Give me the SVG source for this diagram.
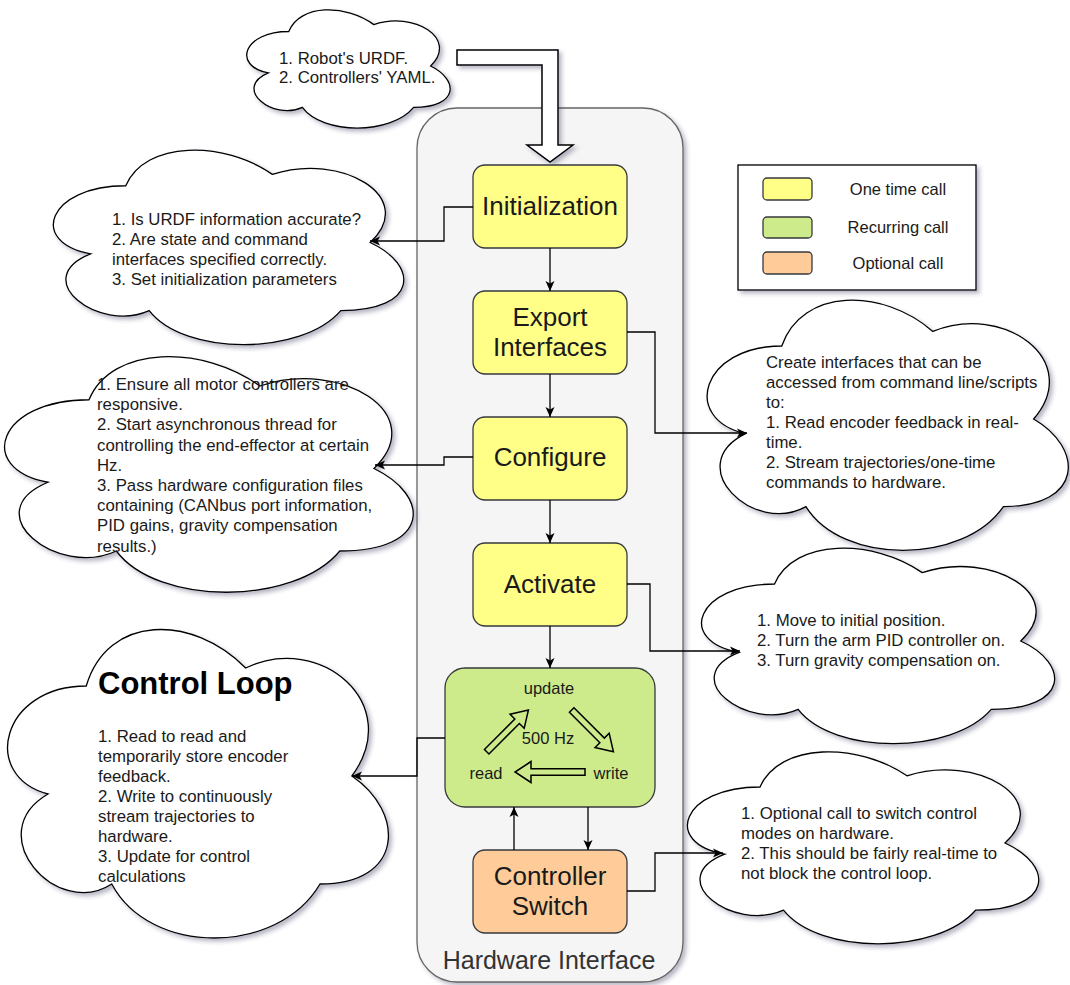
<svg xmlns="http://www.w3.org/2000/svg" xmlns:xlink="http://www.w3.org/1999/xlink" width="1070" height="985" viewBox="0 0 1070 985">
  <defs>
    <style>
      text { font-family: "Liberation Sans", Arial, Helvetica, sans-serif; }
      .ct { font-size: 16.8px; fill: #1a1a1a; }
      .nt { font-size: 26px; fill: #1a1a1a; text-anchor: middle; }
      .lt { font-size: 16.5px; fill: #1a1a1a; text-anchor: middle; }
      .gt { font-size: 16.5px; fill: #1a1a1a; text-anchor: middle; }
      .yellow { fill: #ffff88; stroke: #36393d; stroke-width: 1.3; }
      .green { fill: #cdeb8b; stroke: #36393d; stroke-width: 1.3; }
      .orange { fill: #ffcc99; stroke: #36393d; stroke-width: 1.3; }
      .edge { fill: none; stroke: #000; stroke-width: 1.3; marker-end: url(#arr); }
      .flex { fill: none; stroke: #000; stroke-width: 1.5; stroke-linejoin: miter; }
    </style>
    <filter id="shadow" x="-10%" y="-10%" width="125%" height="125%">
      <feDropShadow dx="3" dy="3" stdDeviation="2" flood-color="#33335c" flood-opacity="0.35"/>
    </filter>
    <marker id="arr" viewBox="0 0 10 10" refX="10" refY="5" markerWidth="10" markerHeight="10" markerUnits="userSpaceOnUse" orient="auto">
      <path d="M0,0.5 L10,5 L0,9.5 L2.5,5 Z" fill="#000"/>
    </marker>
    <!-- unit cloud outline, scaled per use -->
    <path id="cloudShape" d="M0.25,0.25 C0.05,0.25 0,0.5 0.16,0.55 C0,0.66 0.18,0.9 0.31,0.8 C0.4,1 0.7,1 0.8,0.8 C1,0.8 1,0.6 0.875,0.5 C1,0.3 0.8,0.1 0.625,0.2 C0.5,0.05 0.3,0.05 0.25,0.25 Z" fill="#ffffff" stroke="#000" stroke-width="1.3" vector-effect="non-scaling-stroke"/>
  </defs>

  <rect width="1070" height="985" fill="#ffffff"/>

  <!-- container -->
  <g id="hardware-interface">
    <rect x="417" y="108" width="266" height="874" rx="40" ry="40" fill="#f5f5f5" stroke="#666666" stroke-width="1.3" filter="url(#shadow)"/>
    <text x="549" y="969" font-size="25" fill="#333333" text-anchor="middle">Hardware Interface</text>
  </g>

  <!-- inputs cloud and its hollow arrow -->
  <g id="inputs-cloud">
    <g filter="url(#shadow)"><use href="#cloudShape" transform="translate(232,-3) scale(227,138)"/></g>
    <text class="ct"><tspan x="279" y="64">1. Robot's URDF.</tspan><tspan x="279" y="83">2. Controllers' YAML.</tspan></text>
  </g>
  <g id="inputs-arrow">
    <polygon points="457,50 558,50 558,145 573,145 550,162 527,145 542,145 542,65 457,65" fill="#ffffff" stroke="#000" stroke-width="1.5" filter="url(#shadow)"/>
  </g>

  <!-- legend -->
  <g id="legend">
    <rect x="738" y="165" width="238" height="125" fill="#ffffff" stroke="#000" stroke-width="1.3" filter="url(#shadow)"/>
    <rect class="yellow" x="763" y="178" width="49" height="22" rx="4"/>
    <rect class="green" x="763" y="217" width="49" height="21" rx="4"/>
    <rect class="orange" x="763" y="252" width="49" height="22" rx="4"/>
    <text class="lt" x="898" y="195">One time call</text>
    <text class="lt" x="898" y="233">Recurring call</text>
    <text class="lt" x="898" y="269">Optional call</text>
  </g>

  <!-- stage nodes -->
  <g id="initialization">
    <rect class="yellow" x="473" y="165" width="154" height="83" rx="12"/>
    <text class="nt" x="550" y="214.5">Initialization</text>
  </g>
  <g id="export-interfaces">
    <rect class="yellow" x="473" y="291" width="154" height="83" rx="12"/>
    <text class="nt" x="550" y="326">Export</text>
    <text class="nt" x="550" y="356">Interfaces</text>
  </g>
  <g id="configure">
    <rect class="yellow" x="473" y="417" width="154" height="83" rx="12"/>
    <text class="nt" x="550" y="466">Configure</text>
  </g>
  <g id="activate">
    <rect class="yellow" x="473" y="543" width="154" height="83" rx="12"/>
    <text class="nt" x="550" y="592.5">Activate</text>
  </g>
  <g id="control-loop">
    <rect class="green" x="445" y="668" width="210" height="139" rx="20"/>
    <text class="gt" x="549" y="694">update</text>
    <text class="gt" x="548" y="744">500 Hz</text>
    <text class="gt" x="486" y="779">read</text>
    <text class="gt" x="611" y="779">write</text>
    <polygon class="flex" transform="translate(486.7,751.7) rotate(-45)" points="0,-3.2 43,-3.2 43,-10 59,0 43,10 43,3.2 0,3.2"/>
    <polygon class="flex" transform="translate(571.7,710) rotate(45)" points="0,-3.2 43,-3.2 43,-10 59,0 43,10 43,3.2 0,3.2"/>
    <polygon class="flex" transform="translate(585,772) rotate(180)" points="0,-3.2 54,-3.2 54,-10.5 70,0 54,10.5 54,3.2 0,3.2"/>
  </g>
  <g id="controller-switch">
    <rect class="orange" x="473" y="850" width="154" height="83" rx="12"/>
    <text class="nt" x="550" y="884.5">Controller</text>
    <text class="nt" x="550" y="914.5">Switch</text>
  </g>

  <!-- note clouds -->
  <g id="init-notes">
    <g filter="url(#shadow)"><use href="#cloudShape" transform="translate(28,129) scale(391,227)"/></g>
    <text class="ct">
      <tspan x="112" y="224.5">1. Is URDF information accurate?</tspan>
      <tspan x="112" y="244.5">2. Are state and command</tspan>
      <tspan x="112" y="264.5">interfaces specified correctly.</tspan>
      <tspan x="112" y="284.5">3. Set initialization parameters</tspan>
    </text>
  </g>
  <g id="configure-notes">
    <g filter="url(#shadow)"><use href="#cloudShape" transform="translate(-25,331) scale(456,275)"/></g>
    <text class="ct">
      <tspan x="97" y="390">1. Ensure all motor controllers are</tspan>
      <tspan x="97" y="410.2">responsive.</tspan>
      <tspan x="97" y="430.4">2. Start asynchronous thread for</tspan>
      <tspan x="97" y="450.6">controlling the end-effector at certain</tspan>
      <tspan x="97" y="470.8">Hz.</tspan>
      <tspan x="97" y="491">3. Pass hardware configuration files</tspan>
      <tspan x="97" y="511.2">containing (CANbus port information,</tspan>
      <tspan x="97" y="531.4">PID gains, gravity compensation</tspan>
      <tspan x="97" y="551.6">results.)</tspan>
    </text>
  </g>
  <g id="export-notes">
    <g filter="url(#shadow)"><use href="#cloudShape" transform="translate(681,273) scale(403,292)"/></g>
    <text class="ct">
      <tspan x="766" y="368">Create interfaces that can be</tspan>
      <tspan x="766" y="388">accessed from command line/scripts</tspan>
      <tspan x="766" y="408">to:</tspan>
      <tspan x="766" y="428">1. Read encoder feedback in real-</tspan>
      <tspan x="766" y="448">time.</tspan>
      <tspan x="766" y="468">2. Stream trajectories/one-time</tspan>
      <tspan x="766" y="488">commands to hardware.</tspan>
    </text>
  </g>
  <g id="activate-notes">
    <g filter="url(#shadow)"><use href="#cloudShape" transform="translate(676,527) scale(394,228)"/></g>
    <text class="ct">
      <tspan x="757" y="626">1. Move to initial position.</tspan>
      <tspan x="757" y="646">2. Turn the arm PID controller on.</tspan>
      <tspan x="757" y="666">3. Turn gravity compensation on.</tspan>
    </text>
  </g>
  <g id="control-loop-notes">
    <g filter="url(#shadow)"><use href="#cloudShape" transform="translate(-20,596) scale(425,360)"/></g>
    <text x="98" y="694" font-size="31" font-weight="bold" fill="#000">Control Loop</text>
    <text class="ct">
      <tspan x="98" y="741.7">1. Read to read and</tspan>
      <tspan x="98" y="761.8">temporarily store encoder</tspan>
      <tspan x="98" y="781.9">feedback.</tspan>
      <tspan x="98" y="802">2. Write to continuously</tspan>
      <tspan x="98" y="822.1">stream trajectories to</tspan>
      <tspan x="98" y="842.2">hardware.</tspan>
      <tspan x="98" y="862.3">3. Update for control</tspan>
      <tspan x="98" y="882.4">calculations</tspan>
    </text>
  </g>
  <g id="switch-notes">
    <g filter="url(#shadow)"><use href="#cloudShape" transform="translate(662,731) scale(392,224)"/></g>
    <text class="ct">
      <tspan x="741" y="818.7">1. Optional call to switch control</tspan>
      <tspan x="741" y="838.7">modes on hardware.</tspan>
      <tspan x="741" y="858.7">2. This should be fairly real-time to</tspan>
      <tspan x="741" y="878.7">not block the control loop.</tspan>
    </text>
  </g>

  <!-- connectors -->
  <g id="connectors">
    <path class="edge" d="M550,248 V291"/>
    <path class="edge" d="M550,374 V417"/>
    <path class="edge" d="M550,500 V543"/>
    <path class="edge" d="M550,626 V668"/>
    <path class="edge" d="M588,807 V850"/>
    <path class="edge" d="M514,850 V807"/>
    <path class="edge" d="M473,207 H444 V241 H370"/>
    <path class="edge" d="M627,332 H655 V433 H747"/>
    <path class="edge" d="M473,457 H444 V465 H375"/>
    <path class="edge" d="M627,584 H650 V651 H740"/>
    <path class="edge" d="M445,738 H417 V776 H352"/>
    <path class="edge" d="M627,891 H655 V853 H723"/>
  </g>
</svg>
